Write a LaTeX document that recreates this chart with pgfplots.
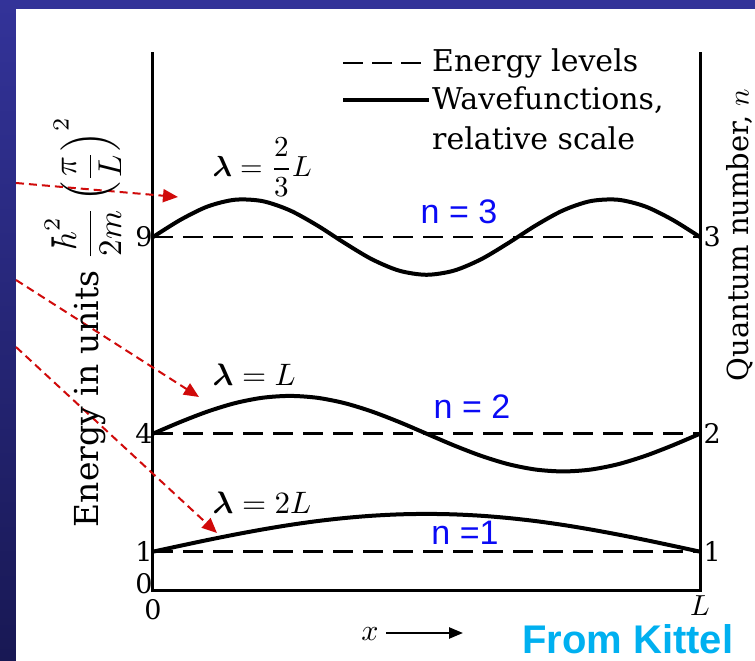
\RequirePackage{fix-cm}
\documentclass[border=0pt]{standalone}
\usepackage{amsmath}
\usepackage{fontspec}
\setmainfont{DejaVu Serif}
\newfontfamily\arial{Liberation Sans}
\usepackage{pgfplots}
\pgfplotsset{compat=1.18}
\usetikzlibrary{arrows.meta}
\definecolor{slidetop}{RGB}{51,51,153}
\definecolor{slidebot}{RGB}{24,24,84}
\definecolor{arrowred}{RGB}{208,10,10}
\definecolor{nblue}{RGB}{10,10,245}
\definecolor{kittel}{RGB}{0,176,240}

\pgfplotstableread{
x y
0.00 1.000
0.05 1.150
0.10 1.297
0.15 1.436
0.20 1.564
0.25 1.679
0.30 1.777
0.35 1.855
0.40 1.913
0.45 1.948
0.50 1.960
0.55 1.948
0.60 1.913
0.65 1.855
0.70 1.777
0.75 1.679
0.80 1.564
0.85 1.436
0.90 1.297
0.95 1.150
1.00 1.000
}\wavone
\pgfplotstableread{
x y
0.00 4.000
0.05 4.297
0.10 4.564
0.15 4.777
0.20 4.913
0.25 4.960
0.30 4.913
0.35 4.777
0.40 4.564
0.45 4.297
0.50 4.000
0.55 3.703
0.60 3.436
0.65 3.223
0.70 3.087
0.75 3.040
0.80 3.087
0.85 3.223
0.90 3.436
0.95 3.703
1.00 4.000
}\wavtwo
\pgfplotstableread{
x y
0.00 9.000
0.05 9.436
0.10 9.777
0.15 9.948
0.20 9.913
0.25 9.679
0.30 9.297
0.35 8.850
0.40 8.436
0.45 8.145
0.50 8.040
0.55 8.145
0.60 8.436
0.65 8.850
0.70 9.297
0.75 9.679
0.80 9.913
0.85 9.948
0.90 9.777
0.95 9.436
1.00 9.000
}\wavthree

\begin{document}
\begin{tikzpicture}
\shade[top color=slidetop,bottom color=slidebot] (-153pt,-70pt) rectangle (602pt,591pt);
\fill[white] (-137pt,-70pt) rectangle (602pt,582pt);
\begin{axis}[
  at={(0pt,0pt)}, anchor=south west,
  x=547pt, y=39.33pt,
  xmin=0, xmax=1, ymin=0, ymax=13.7,
  enlargelimits=false, clip=false,
  axis line style={draw=none},
  major tick length=0pt,
  xtick={0}, xticklabels={0},
  ytick={1,4,9},
  extra y ticks={0},
  extra y tick style={yticklabel style={yshift=7pt}},
  /pgf/number format/assume math mode=true,
  tick label style={font=\fontsize{27}{30}\selectfont},
  yticklabel style={xshift=3pt},
  xticklabel style={yshift=-5pt},
]
\addplot[black, line width=2.5pt, dash pattern=on 20pt off 10pt] coordinates {(0,1) (1,1)};
\addplot[black, line width=2.5pt, dash pattern=on 20pt off 10pt] coordinates {(0,4) (1,4)};
\addplot[black, line width=2.5pt, dash pattern=on 20pt off 10pt] coordinates {(0,9) (1,9)};
\addplot[black, line width=4pt, smooth] table[x=x,y=y] {\wavone};
\addplot[black, line width=4pt, smooth] table[x=x,y=y] {\wavtwo};
\addplot[black, line width=4pt, smooth] table[x=x,y=y] {\wavthree};
\draw[line width=3pt] (axis cs:0,13.7) -- (axis cs:0,0) -- (axis cs:1,0) -- (axis cs:1,13.7);
\node[anchor=west, font=\fontsize{27}{30}\selectfont] at (axis cs:1,1) {1};
\node[anchor=west, font=\fontsize{27}{30}\selectfont] at (axis cs:1,4) {2};
\node[anchor=west, font=\fontsize{27}{30}\selectfont] at (axis cs:1,9) {3};
\node[anchor=north, inner sep=0pt, font=\fontsize{10}{12}\selectfont, scale=2.9, yshift=-1.5pt] at (axis cs:1,0) {$L$};
\end{axis}
% legend
\draw[line width=2.5pt, dash pattern=on 20pt off 9pt] (190pt,528pt) -- (276pt,528pt);
\node[anchor=west, inner sep=0pt, font=\fontsize{30}{34}\selectfont] at (279pt,528pt) {Energy levels};
\draw[line width=4pt] (190pt,491pt) -- (276pt,491pt);
\node[anchor=west, inner sep=0pt, font=\fontsize{30}{34}\selectfont] at (279pt,491pt) {Wavefunctions,};
\node[anchor=west, inner sep=0pt, font=\fontsize{30}{34}\selectfont] at (279pt,453pt) {relative scale};
% lambda labels
\node[anchor=west, inner sep=0pt, font=\fontsize{10}{12}\selectfont, scale=2.9] at (59pt,424pt) {$\boldsymbol{\lambda} = \dfrac{2}{3}L$};
\node[anchor=west, inner sep=0pt, font=\fontsize{10}{12}\selectfont, scale=3.1] at (59pt,216pt) {$\boldsymbol{\lambda} = L$};
\node[anchor=west, inner sep=0pt, font=\fontsize{10}{12}\selectfont, scale=3.1] at (59pt,88pt) {$\boldsymbol{\lambda} = 2L$};
% blue n labels
\node[font=\arial\fontsize{34}{38}\selectfont, text=nblue] at (306pt,379pt) {n = 3};
\node[font=\arial\fontsize{34}{38}\selectfont, text=nblue] at (319pt,184pt) {n = 2};
\node[font=\arial\fontsize{34}{38}\selectfont, text=nblue] at (312pt,58pt) {n =1};
% red arrows
\draw[arrowred, line width=2pt, dash pattern=on 8pt off 5pt, -{Triangle[length=15pt,width=13pt]}] (-137pt,408pt) -- (25pt,394pt);
\draw[arrowred, line width=2pt, dash pattern=on 8pt off 5pt, -{Triangle[length=15pt,width=13pt]}] (-137pt,311pt) -- (46pt,194pt);
\draw[arrowred, line width=2pt, dash pattern=on 8pt off 5pt, -{Triangle[length=15pt,width=13pt]}] (-137pt,244pt) -- (64pt,58pt);
% axis labels
\node[rotate=90, font=\fontsize{10}{12}\selectfont, scale=3.3] at (-70pt,269pt) {Energy in units $\dfrac{\hbar^2}{2m}\left(\dfrac{\pi}{L}\right)^{2}$};
\node[rotate=90, font=\fontsize{10}{12}\selectfont, scale=2.9] at (587pt,356pt) {Quantum number, $n$};
\node[font=\fontsize{10}{12}\selectfont, scale=3] at (217pt,-43pt) {$x$};
\draw[line width=2.5pt, -{Triangle[length=14pt,width=11pt]}] (233pt,-42pt) -- (310pt,-42pt);
\node[anchor=base west, inner sep=0pt, font=\arial\bfseries\fontsize{40}{44}\selectfont, text=kittel] at (369pt,-63pt) {From Kittel};
\pgfresetboundingbox
\useasboundingbox (-153pt,-70pt) rectangle (602pt,591pt);
\end{tikzpicture}
\end{document}
